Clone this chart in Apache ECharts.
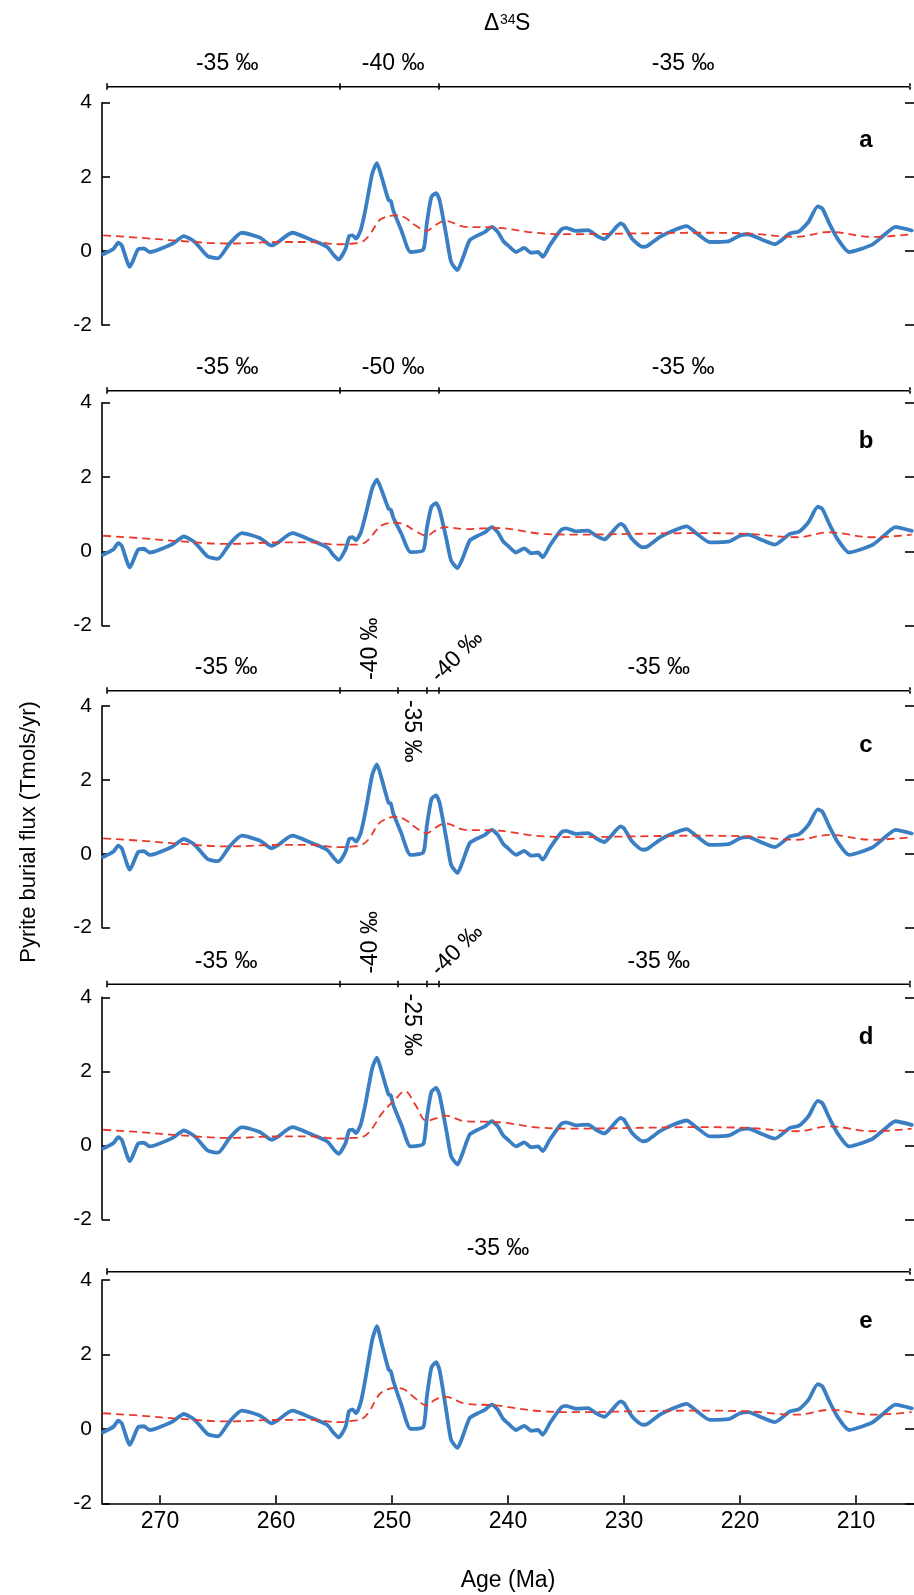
<!DOCTYPE html>
<html><head><meta charset="utf-8">
<script src="https://cdn.jsdelivr.net/npm/echarts@6/dist/echarts.min.js"></script>
<style>html,body{margin:0;padding:0;background:#fff}#c{width:914px;height:1595px}</style>
</head><body><div id="c"></div>
<script>
const FONT = '"Liberation Sans", Arial, Helvetica, sans-serif';

// ---- axis ticks ----
const ageTicks = [270, 260, 250, 240, 230, 220, 210];
const panelLetters = ['a', 'b', 'c', 'd', 'e'];

// ---- blue: pyrite burial flux (Tmols/yr) ----
const blueAgesPre = [274.9, 274.0, 273.6, 273.3, 272.6, 271.9, 271.4, 270.9, 268.9, 267.95, 267.0, 265.9, 265.0, 264.0, 262.95, 261.4, 260.4, 259.9, 258.6, 256.9, 255.6, 255.0, 254.6, 254.0];
const blueValuesPre = [-0.09, 0.06, 0.22, 0.15, -0.43, 0.04, 0.07, -0.03, 0.20, 0.40, 0.24, -0.14, -0.20, 0.20, 0.49, 0.36, 0.15, 0.22, 0.49, 0.29, 0.11, -0.12, -0.23, 0.06];

const blueAgesPeak = [253.7, 253.4, 253.1, 252.7, 252.3, 251.7, 251.3, 250.9, 250.3, 250.1, 249.9, 249.2, 248.4, 247.3, 247.0, 246.6, 246.2, 245.9, 245.3, 244.9, 244.35, 243.9];
const bluePeakA = [0.40, 0.42, 0.33, 0.56, 1.10, 2.09, 2.37, 2.00, 1.37, 1.35, 1.10, 0.56, -0.03, 0.04, 0.74, 1.46, 1.56, 1.37, 0.38, -0.30, -0.52, -0.20];
const bluePeakB = [0.35, 0.38, 0.30, 0.50, 0.95, 1.70, 1.93, 1.65, 1.15, 1.12, 0.92, 0.48, -0.02, 0.03, 0.62, 1.20, 1.30, 1.12, 0.32, -0.25, -0.45, -0.18];
const bluePeakC = [0.40, 0.42, 0.33, 0.56, 1.12, 2.14, 2.42, 2.04, 1.38, 1.36, 1.10, 0.56, -0.03, 0.04, 0.75, 1.48, 1.58, 1.38, 0.38, -0.30, -0.52, -0.20];
const bluePeakD = [0.40, 0.42, 0.33, 0.56, 1.10, 2.09, 2.37, 2.00, 1.37, 1.35, 1.10, 0.56, -0.03, 0.04, 0.74, 1.45, 1.55, 1.36, 0.38, -0.30, -0.52, -0.20];
const bluePeakE = [0.48, 0.52, 0.42, 0.70, 1.33, 2.40, 2.76, 2.30, 1.60, 1.55, 1.30, 0.65, 0.00, 0.05, 0.85, 1.65, 1.79, 1.58, 0.45, -0.30, -0.51, -0.20];

const blueAgesPost = [243.3, 242.6, 242.0, 241.4, 240.9, 240.4, 240.0, 239.3, 238.6, 238.0, 237.4, 237.0, 236.4, 235.4, 235.0, 234.15, 233.1, 232.4, 231.7, 231.15, 230.3, 230.0, 229.3, 228.4, 228.0, 226.9, 225.7, 224.6, 223.7, 222.6, 221.0, 220.0, 219.3, 218.0, 217.0, 215.7, 214.9, 214.1, 213.3, 212.9, 212.3, 211.6, 210.6, 208.6, 207.6, 206.6, 205.2];
const blueValuesPost = [0.29, 0.42, 0.51, 0.65, 0.52, 0.26, 0.15, -0.03, 0.08, -0.05, -0.03, -0.16, 0.15, 0.58, 0.62, 0.54, 0.56, 0.42, 0.32, 0.47, 0.74, 0.69, 0.33, 0.11, 0.13, 0.38, 0.56, 0.67, 0.47, 0.24, 0.26, 0.42, 0.45, 0.29, 0.18, 0.47, 0.53, 0.78, 1.20, 1.14, 0.74, 0.33, -0.03, 0.17, 0.42, 0.65, 0.55];

// ---- red dashed: model ----
const redAgesPre = [274.9, 271.5, 268.3, 264.0, 259.7, 256.9, 254.6];
const redValuesPre = [0.42, 0.35, 0.27, 0.20, 0.24, 0.24, 0.18];
const redAgesPeak = [253.3, 252.6, 252.0, 251.4, 250.9, 249.7, 248.9, 248.0, 247.0, 246.3, 245.4, 243.7];
const redPeakA = [0.20, 0.24, 0.40, 0.69, 0.87, 0.96, 0.90, 0.69, 0.54, 0.69, 0.81, 0.65];
const redPeakB = [0.18, 0.20, 0.32, 0.55, 0.70, 0.77, 0.72, 0.55, 0.42, 0.55, 0.65, 0.60];
const redPeakC = [0.20, 0.24, 0.40, 0.70, 0.88, 1.00, 0.93, 0.72, 0.56, 0.70, 0.82, 0.65];
const redPeakD = [0.20, 0.22, 0.34, 0.60, 0.85, 1.25, 1.46, 1.10, 0.66, 0.72, 0.80, 0.65];
const redPeakE = [0.22, 0.26, 0.45, 0.78, 0.98, 1.10, 1.05, 0.82, 0.63, 0.78, 0.86, 0.68];
const redAgesPost = [241.1, 236.9, 234.0, 229.4, 223.7, 219.4, 215.1, 212.3, 208.6, 205.2];
const redValuesPost = [0.63, 0.47, 0.45, 0.47, 0.49, 0.47, 0.38, 0.51, 0.38, 0.45];

// ---- Δ34S interval brackets (Ma) ----
const bracketEdgesA = [274.6, 254.5, 246.0, 205.4];
const bracketEdgesB = [274.6, 254.5, 246.0, 205.4];
const bracketEdgesC = [274.6, 254.5, 249.5, 247.0, 246.0, 205.4];
const bracketEdgesD = [274.6, 254.5, 249.5, 247.0, 246.0, 205.4];
const bracketEdgesE = [274.6, 205.4];

const bracketLabelsA = [{text: '-35 ‰', age: 264.2, kind: 'h'}, {text: '-40 ‰', age: 249.9, kind: 'h'}, {text: '-35 ‰', age: 224.9, kind: 'h'}];
const bracketLabelsB = [{text: '-35 ‰', age: 264.2, kind: 'h'}, {text: '-50 ‰', age: 249.9, kind: 'h'}, {text: '-35 ‰', age: 224.9, kind: 'h'}];
const bracketLabelsC = [{text: '-35 ‰', age: 264.3, kind: 'h'}, {text: '-40 ‰', age: 251.86, kind: 'up'}, {text: '-35 ‰', age: 248.3, kind: 'down'}, {text: '-40 ‰', age: 244.4, kind: 'diag'}, {text: '-35 ‰', age: 227.0, kind: 'h'}];
const bracketLabelsD = [{text: '-35 ‰', age: 264.3, kind: 'h'}, {text: '-40 ‰', age: 251.86, kind: 'up'}, {text: '-25 ‰', age: 248.3, kind: 'down'}, {text: '-40 ‰', age: 244.4, kind: 'diag'}, {text: '-35 ‰', age: 227.0, kind: 'h'}];
const bracketLabelsE = [{text: '-35 ‰', age: 240.86, kind: 'h'}];

// ---- layout (pixels) ----
const GL = 102, GW = 816;
const panels = [
  {top: 102.7, h: 222.3, brY: 86.7, letterY: 140},
  {top: 402.7, h: 223.0, brY: 390.7, letterY: 441},
  {top: 706.0, h: 221.7, brY: 690.7, letterY: 745},
  {top: 997.3, h: 222.0, brY: 984.3, letterY: 1037},
  {top: 1280.0, h: 223.3, brY: 1271.7, letterY: 1321.7}
];
const labelKinds = {h: {dy: -23, rot: 0}, up: {dy: -42, rot: 90}, down: {dy: 40.5, rot: -90}, diag: {dy: -34, rot: 45}};

const bluePeaks = [bluePeakA, bluePeakB, bluePeakC, bluePeakD, bluePeakE];
const redPeaks = [redPeakA, redPeakB, redPeakC, redPeakD, redPeakE];
const bracketEdges = [bracketEdgesA, bracketEdgesB, bracketEdgesC, bracketEdgesD, bracketEdgesE];
const bracketLabels = [bracketLabelsA, bracketLabelsB, bracketLabelsC, bracketLabelsD, bracketLabelsE];

function zip(a, v) { return a.map((x, i) => [x, v[i]]); }

const BLUE = '#3a7fc4', RED = '#e8392b', BLACK = '#000';
const grid = [], xAxis = [], yAxis = [], series = [];
const bracketXAxisIdx = [];

panels.forEach((p, i) => {
  const gMain = grid.length;
  grid.push({left: GL, top: p.top, width: GW, height: p.h});
  const gBr = grid.length;
  grid.push({left: GL, top: p.brY - 0.5, width: GW, height: 1});

  const last = i === 4;
  const xMain = xAxis.length;
  xAxis.push({
    gridIndex: gMain, type: 'value', min: 205, max: 275, inverse: true, show: last,
    axisLine: {show: true, onZero: false, lineStyle: {color: BLACK, width: 1.6}},
    axisTick: {show: true, inside: true, length: 8, customValues: ageTicks, lineStyle: {color: BLACK, width: 1.6}},
    axisLabel: {show: true, customValues: ageTicks, margin: 7, fontSize: 23, color: BLACK, fontFamily: FONT},
    splitLine: {show: false}
  });
  const xBr = xAxis.length;
  bracketXAxisIdx.push(xBr);
  ['bottom', 'top'].forEach(pos => {
    xAxis.push({
      gridIndex: gBr, type: 'value', min: 205, max: 275, inverse: true, position: pos,
      axisLine: {show: false},
      axisTick: {show: true, inside: false, length: 3, customValues: bracketEdges[i], lineStyle: {color: BLACK, width: 1.6}},
      axisLabel: {show: false}, splitLine: {show: false}
    });
  });

  const yMain = yAxis.length;
  yAxis.push({
    gridIndex: gMain, type: 'value', min: -2, max: 4, interval: 2, position: 'left',
    axisLine: {show: true, lineStyle: {color: BLACK, width: 1.6}},
    axisTick: {show: true, inside: true, length: 8, lineStyle: {color: BLACK, width: 1.6}},
    axisLabel: {margin: 10, fontSize: 21, color: BLACK, fontFamily: FONT},
    splitLine: {show: false}
  });
  yAxis.push({
    gridIndex: gMain, type: 'value', min: -2, max: 4, interval: 2, position: 'right',
    axisLine: {show: false},
    axisTick: {show: true, inside: true, length: 9, lineStyle: {color: BLACK, width: 1.6}},
    axisLabel: {show: false}, splitLine: {show: false}
  });
  const yBr = yAxis.length;
  yAxis.push({gridIndex: gBr, type: 'value', min: -1, max: 1, show: false, splitLine: {show: false}});

  const blueData = zip(blueAgesPre, blueValuesPre).concat(zip(blueAgesPeak, bluePeaks[i]), zip(blueAgesPost, blueValuesPost));
  const redData = zip(redAgesPre, redValuesPre).concat(zip(redAgesPeak, redPeaks[i]), zip(redAgesPost, redValuesPost));

  series.push({
    type: 'line', xAxisIndex: xMain, yAxisIndex: yMain, data: blueData, smooth: 0.2,
    symbol: 'none', lineStyle: {color: BLUE, width: 3.8, cap: 'round', join: 'round'}, silent: true, z: 2
  });
  series.push({
    type: 'line', xAxisIndex: xMain, yAxisIndex: yMain, data: redData, smooth: 0.4,
    symbol: 'none', lineStyle: {color: RED, width: 1.8, type: [8, 5]}, silent: true, z: 3
  });
  const e = bracketEdges[i];
  series.push({
    type: 'line', xAxisIndex: xBr, yAxisIndex: yBr, data: [[e[0], 0], [e[e.length - 1], 0]],
    symbol: 'none', lineStyle: {color: BLACK, width: 1.6}, silent: true, clip: false
  });
});

const chart = echarts.init(document.getElementById('c'), null, {renderer: 'canvas'});
chart.setOption({animation: false, backgroundColor: '#fff', grid, xAxis, yAxis, series});

function txt(text, x, y, size, opts) {
  opts = opts || {};
  return {
    type: 'text', x, y, rotation: (opts.rot || 0) * Math.PI / 180, silent: true, z: 10,
    style: {
      text, fill: BLACK, font: (opts.bold ? 'bold ' : '') + size + 'px ' + FONT,
      align: opts.align || 'center', verticalAlign: opts.va || 'middle',
      textAlign: opts.align || 'center', textVerticalAlign: opts.va || 'middle'
    }
  };
}

const gfx = [];
bracketLabels.forEach((labels, i) => {
  labels.forEach(l => {
    const x = chart.convertToPixel({xAxisIndex: bracketXAxisIdx[i]}, l.age);
    const k = labelKinds[l.kind];
    gfx.push(txt(l.text, x, panels[i].brY + k.dy, 23, {rot: k.rot}));
  });
  gfx.push(txt(panelLetters[i], 866, panels[i].letterY, 24, {bold: true}));
});
// Δ34S title
gfx.push(txt('Δ', 484, 24, 23, {align: 'left'}));
gfx.push(txt('34', 500, 20.5, 14, {align: 'left'}));
gfx.push(txt('S', 515, 24, 23, {align: 'left'}));
// axis titles
gfx.push(txt('Pyrite burial flux (Tmols/yr)', 28.5, 832, 22, {rot: 90}));
gfx.push(txt('Age (Ma)', 508, 1581, 23));

chart.setOption({graphic: {elements: gfx}});
</script>
</body></html>
